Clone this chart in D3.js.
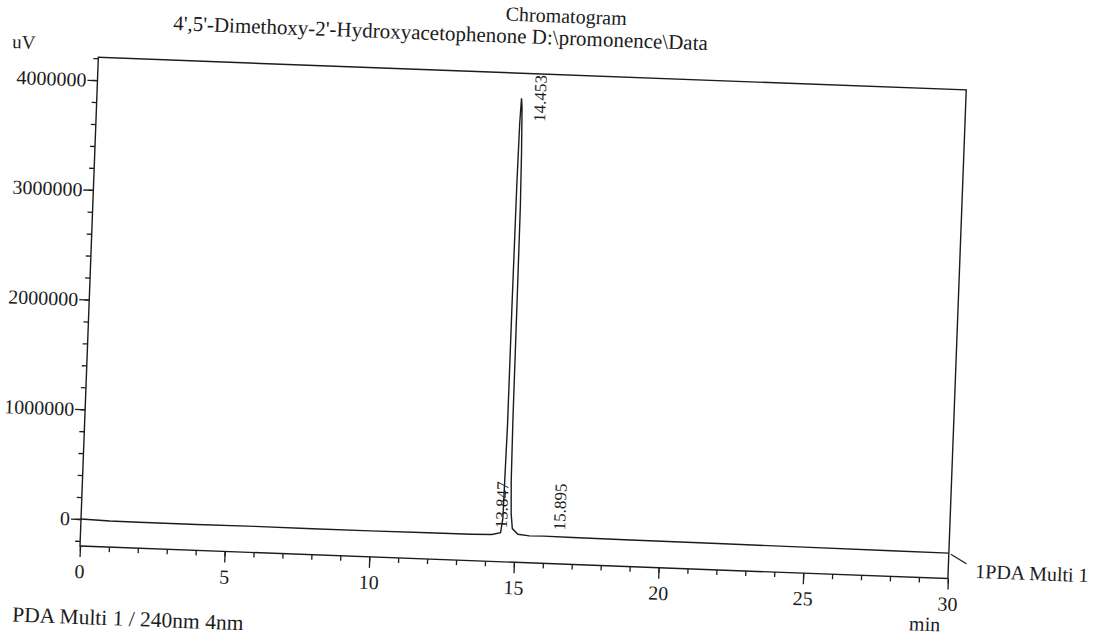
<!DOCTYPE html>
<html>
<head>
<meta charset="utf-8">
<script src="https://cdn.jsdelivr.net/npm/d3@7"></script>
<style>
  body { margin: 0; background: #fff; }
  text { font-family: "Liberation Serif", "DejaVu Serif", serif; fill: #1c1c1c; }
</style>
</head>
<body>
<script>
// chromatogram trace (min, uV)
const traceTime = [0, 1, 2, 4, 6, 8, 10, 12, 13.5, 14.2, 14.5, 14.56, 14.6, 14.6, 14.61, 14.63, 14.66,
                   14.69, 14.73, 14.76, 14.77, 14.78, 14.8, 14.84, 14.9, 15.1, 15.5, 16, 17, 19, 22, 25, 28, 30];
const traceValue = [0, -8000, -10000, -10000, -8000, -9000, -9000, -7000, -5000, 0, 20000, 150000, 1000000,
                    2100000, 3200000, 3750000, 3980000, 3900000, 3500000, 3000000, 2150000, 1050000, 500000,
                    200000, 60000, 10000, 0, 2000, 0, -3000, -6000, -9000, -12000, -14000];

// retention time labels and where they sit on the plot
const peakLabels = ["13.847", "14.453", "15.895"];
const peakLabelTime = [14.71, 15.5, 16.72];
const peakLabelValue = [60000, 3772000, 60000];

const yTicks = [0, 1000000, 2000000, 3000000, 4000000];
const xTicks = [0, 5, 10, 15, 20, 25, 30];

const WIDTH = 1093, HEIGHT = 635;
const LEFT = 80, RIGHT = 948.5, TOP = 57, BOTTOM = 546;
const TILT = 2.15; // the scan is slightly rotated

const svg = d3.select("body").append("svg")
    .attr("width", WIDTH)
    .attr("height", HEIGHT);

const g = svg.append("g")
    .attr("transform", `rotate(${TILT}, ${LEFT}, ${BOTTOM})`);

const x = d3.scaleLinear().domain([0, 30]).range([LEFT, RIGHT]);
const y = d3.scaleLinear().domain([-246000, 4208000]).range([BOTTOM, TOP]);

const ink = "#1c1c1c";

// titles
g.append("text").attr("x", 546).attr("y", 5)
    .attr("text-anchor", "middle").style("font-size", "20px")
    .text("Chromatogram");
g.append("text").attr("x", 421).attr("y", 27)
    .attr("text-anchor", "middle").style("font-size", "21px")
    .text("4',5'-Dimethoxy-2'-Hydroxyacetophenone D:\\promonence\\Data");
g.append("text").attr("x", -6.6).attr("y", 51)
    .style("font-size", "19px")
    .text("uV");

// y axis
const yMinor = d3.range(-200000, 4200001, 200000);
g.append("g")
    .attr("transform", `translate(${LEFT},0)`)
    .call(d3.axisLeft(y).tickValues(yMinor).tickSize(5).tickFormat(""))
    .call(a => a.select(".domain").remove());
g.append("g")
    .attr("transform", `translate(${LEFT},0)`)
    .call(d3.axisLeft(y).tickValues(yTicks).tickSize(10).tickPadding(1).tickFormat(d3.format("d")))
    .call(a => a.select(".domain").remove())
    .call(a => a.selectAll("text").style("font-size", "20px").attr("fill", ink)
        .style("font-family", "Liberation Serif"));

// x axis
g.append("g")
    .attr("transform", `translate(0,${BOTTOM})`)
    .call(d3.axisBottom(x).tickValues(d3.range(0, 31, 1)).tickSize(5).tickFormat(""))
    .call(a => a.select(".domain").remove());
g.append("g")
    .attr("transform", `translate(0,${BOTTOM})`)
    .call(d3.axisBottom(x).tickValues(xTicks).tickSize(11).tickPadding(7))
    .call(a => a.select(".domain").remove())
    .call(a => a.selectAll("text").style("font-size", "20px").attr("fill", ink)
        .style("font-family", "Liberation Serif"));
g.selectAll(".tick line").attr("stroke", ink).attr("stroke-width", 1.3);

g.append("text").attr("x", 927).attr("y", 599)
    .attr("text-anchor", "middle").style("font-size", "20px")
    .text("min");

// frame
g.append("rect")
    .attr("x", LEFT).attr("y", TOP)
    .attr("width", RIGHT - LEFT).attr("height", BOTTOM - TOP)
    .attr("fill", "none").attr("stroke", ink).attr("stroke-width", 1.4);

// trace
const line = d3.line()
    .x((d, i) => x(traceTime[i]))
    .y(d => y(d));
g.append("path")
    .datum(traceValue)
    .attr("d", line)
    .attr("fill", "none")
    .attr("stroke", ink)
    .attr("stroke-width", 1.4);

// peak labels
g.selectAll(".rt")
    .data(peakLabels)
    .enter()
    .append("text")
    .attr("class", "rt")
    .attr("transform", (d, i) => `translate(${x(peakLabelTime[i])},${y(peakLabelValue[i])}) rotate(-90)`)
    .style("font-size", "17px")
    .text(d => d);

// channel label with leader
const endX = x(traceTime[traceTime.length - 1]);
const endY = y(traceValue[traceValue.length - 1]);
g.append("line")
    .attr("x1", endX + 2).attr("y1", endY + 1)
    .attr("x2", endX + 18).attr("y2", endY + 10)
    .attr("stroke", ink).attr("stroke-width", 1.2);
g.append("text").attr("x", 975.6).attr("y", 544.4)
    .style("font-size", "20px")
    .text("1PDA Multi 1");

g.append("text").attr("x", 15).attr("y", 624)
    .style("font-size", "21.5px")
    .text("PDA Multi 1 / 240nm 4nm");
</script>
</body>
</html>
